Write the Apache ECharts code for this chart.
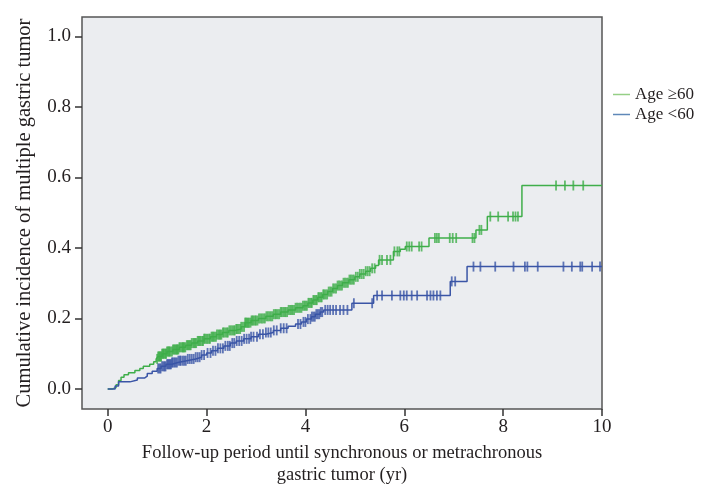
<!DOCTYPE html>
<html>
<head>
<meta charset="utf-8">
<script src="https://cdn.jsdelivr.net/npm/echarts@6/dist/echarts.min.js"></script>
<style>html,body{margin:0;padding:0;background:#fff}#c{width:708px;height:496px}</style>
</head>
<body>
<div id="c"></div>
<script>
// Step-curve event points [time (yr), cumulative incidence]
var ageGe60Steps = [
  [0,0],[0.1,0.004],[0.17,0.012],[0.22,0.024],[0.27,0.033],[0.33,0.04],[0.42,0.046],[0.55,0.052],
  [0.65,0.058],[0.72,0.064],[0.85,0.07],[0.93,0.077],[0.98,0.085],[1.02,0.092],[1.1,0.1],[1.2,0.106],
  [1.32,0.112],[1.45,0.118],[1.58,0.124],[1.7,0.13],[1.82,0.136],[1.95,0.142],[2.08,0.148],[2.2,0.154],
  [2.32,0.16],[2.45,0.166],[2.58,0.17],[2.7,0.176],[2.78,0.188],[2.9,0.194],[3.05,0.2],[3.2,0.206],
  [3.35,0.212],[3.5,0.218],[3.65,0.224],[3.8,0.23],[3.95,0.236],[4.05,0.244],[4.15,0.252],[4.25,0.26],
  [4.35,0.268],[4.45,0.276],[4.55,0.285],[4.65,0.293],[4.75,0.301],[4.88,0.31],[5.0,0.318],[5.1,0.326],
  [5.22,0.334],[5.32,0.342],[5.42,0.35],[5.48,0.366],[5.78,0.39],[5.92,0.396],[6.02,0.404],
  [6.5,0.428],[7.45,0.451],[7.68,0.489],[8.38,0.577],[10,0.577]
];
var ageLt60Steps = [
  [0,0],[0.15,0.008],[0.22,0.02],[0.45,0.025],[0.6,0.031],[0.75,0.036],[0.8,0.044],[0.9,0.05],
  [1.0,0.058],[1.08,0.064],[1.18,0.07],[1.3,0.075],[1.42,0.08],[1.6,0.085],[1.78,0.09],[1.9,0.096],
  [2.0,0.102],[2.1,0.108],[2.22,0.115],[2.35,0.122],[2.48,0.13],[2.6,0.136],[2.75,0.142],[2.9,0.148],
  [3.05,0.155],[3.2,0.16],[3.35,0.166],[3.5,0.172],[3.65,0.178],[3.8,0.184],[3.92,0.19],[4.02,0.198],
  [4.12,0.205],[4.2,0.212],[4.3,0.218],[4.37,0.224],[4.94,0.243],[5.38,0.265],[6.93,0.305],[7.27,0.347],
  [10,0.347]
];
// Censoring times (yr)
var ageGe60Censored = [
  1.0,1.02,1.04,1.05,1.07,1.08,1.1,1.12,1.13,1.15,1.17,1.18,1.2,1.22,1.24,1.25,1.27,1.3,1.32,1.34,1.36,1.38,
  1.4,1.41,1.43,1.45,1.47,1.5,1.52,1.53,1.55,1.57,1.6,1.62,1.64,1.66,1.68,1.7,1.73,1.75,1.77,1.79,1.82,
  1.84,1.86,1.88,1.91,1.93,1.95,1.97,2.0,2.02,2.05,2.07,2.1,2.12,2.14,2.16,2.19,2.21,2.24,2.26,2.28,2.3,
  2.33,2.35,2.38,2.41,2.43,2.46,2.49,2.52,2.55,2.57,2.6,2.62,2.65,2.68,2.7,2.73,2.76,2.78,2.8,2.82,2.84,
  2.86,2.89,2.91,2.93,2.95,2.98,3.0,3.03,3.06,3.09,3.12,3.15,3.18,3.21,3.24,3.27,3.3,3.33,3.36,3.39,3.41,
  3.44,3.47,3.5,3.52,3.55,3.58,3.6,3.63,3.66,3.69,3.72,3.74,3.77,3.8,3.83,3.86,3.89,3.92,3.95,3.98,4.0,
  4.03,4.06,4.08,4.11,4.13,4.16,4.18,4.21,4.23,4.26,4.28,4.31,4.33,4.36,4.38,4.41,4.44,4.47,4.5,4.53,
  4.56,4.59,4.62,4.65,4.68,4.71,4.74,4.77,4.8,4.83,4.86,4.89,4.92,4.95,4.98,5.02,5.06,5.1,5.14,5.18,
  5.22,5.26,5.3,5.35,5.4,5.5,5.55,5.65,5.72,5.8,5.86,5.9,6.05,6.1,6.15,6.3,6.35,6.62,6.66,6.7,
  6.92,6.98,7.05,7.38,7.42,7.52,7.56,7.74,7.9,8.1,8.2,8.25,8.3,9.07,9.25,9.42,9.62
];
var ageLt60Censored = [
  1.02,1.05,1.07,1.1,1.13,1.15,1.17,1.2,1.22,1.24,1.26,1.28,1.3,1.32,1.35,1.37,1.4,1.43,1.46,1.48,1.52,
  1.55,1.58,1.62,1.66,1.7,1.74,1.78,1.82,1.86,1.9,1.95,2.02,2.08,2.13,2.18,2.23,2.28,2.33,2.38,2.43,2.47,
  2.52,2.56,2.61,2.66,2.71,2.76,2.81,2.86,2.9,2.95,3.02,3.08,3.14,3.2,3.25,3.3,3.36,3.42,3.5,3.56,3.62,
  3.85,3.9,3.96,4.0,4.05,4.1,4.13,4.16,4.19,4.22,4.25,4.28,4.31,4.34,4.4,4.45,4.5,4.56,4.62,4.7,4.77,
  4.85,4.98,5.35,5.45,5.55,5.75,5.92,5.99,6.05,6.15,6.26,6.46,6.53,6.59,6.66,6.73,6.96,7.03,7.4,7.54,
  7.84,8.21,8.44,8.49,8.7,9.22,9.39,9.56,9.6,9.8,9.96
];
var xTicks = [0,2,4,6,8,10];
var yTicks = [0,0.2,0.4,0.6,0.8,1.0];
var seriesNames = ['Age \u226560','Age <60'];

function valueAt(steps, t){
  var v = steps[0][1];
  for (var i=0;i<steps.length;i++){ if (steps[i][0] <= t) v = steps[i][1]; }
  return v;
}
function censorPoints(steps, times){
  return times.map(function(t){ return [t, valueAt(steps,t)]; });
}

var FONT = 'Liberation Serif';
var TXT = '#231f20';
var GREEN = '#3fae4a', BLUE = '#3a55a6';
var GREEN_L = '#95cf86', BLUE_L = '#5f88b8';

var chart = echarts.init(document.getElementById('c'), null, {renderer:'canvas'});
chart.setOption({
  animation:false,
  backgroundColor:'#ffffff',
  grid:{left:82, top:17, width:520, height:392, show:true, backgroundColor:'#ebedf0', borderColor:'#555555', borderWidth:1.5},
  legend:{
    data:seriesNames, orient:'vertical', left:608, top:81, icon:'rect', itemWidth:17, itemHeight:1.5,
    itemGap:3, textStyle:{fontFamily:FONT, fontSize:17, color:TXT, lineHeight:17}
  },
  xAxis:{
    type:'value', min:-0.52, max:10,
    axisLine:{show:false, onZero:false}, splitLine:{show:false},
    axisTick:{show:true, customValues:xTicks, length:7, lineStyle:{color:'#333', width:1.5}},
    axisLabel:{customValues:xTicks, margin:9, fontFamily:FONT, fontSize:19, color:TXT},
    name:'Follow-up period until synchronous or metrachronous\ngastric tumor (yr)',
    nameLocation:'middle', nameGap:31,
    nameTextStyle:{fontFamily:FONT, fontSize:18.5, color:TXT, lineHeight:22}
  },
  yAxis:{
    type:'value', min:-0.057, max:1.055,
    axisLine:{show:false, onZero:false}, splitLine:{show:false},
    axisTick:{show:true, customValues:yTicks, length:7, lineStyle:{color:'#333', width:1.5}},
    axisLabel:{customValues:yTicks, margin:11, fontFamily:FONT, fontSize:19, color:TXT,
      formatter:function(v){return v.toFixed(1);}},
    name:'Cumulative incidence of multiple gastric tumor',
    nameLocation:'middle', nameGap:47,
    nameTextStyle:{fontFamily:FONT, fontSize:20.5, color:TXT}
  },
  series:[
    {name:seriesNames[0], type:'line', data:[], color:GREEN_L, lineStyle:{color:GREEN_L}},
    {name:seriesNames[1], type:'line', data:[], color:BLUE_L, lineStyle:{color:BLUE_L}},
    {name:'g', type:'line', step:'end', data:ageGe60Steps, showSymbol:false, lineStyle:{color:GREEN, width:1.5}, color:GREEN, z:3},
    {name:'b', type:'line', step:'end', data:ageLt60Steps, showSymbol:false, lineStyle:{color:BLUE, width:1.5}, color:BLUE, z:3},
    {name:'gc', type:'scatter', data:censorPoints(ageGe60Steps, ageGe60Censored), symbol:'rect', symbolSize:[1.8,10], itemStyle:{color:GREEN}, z:4, silent:true},
    {name:'bc', type:'scatter', data:censorPoints(ageLt60Steps, ageLt60Censored), symbol:'rect', symbolSize:[1.8,10], itemStyle:{color:BLUE}, z:4, silent:true}
  ]
});
</script>
</body>
</html>
